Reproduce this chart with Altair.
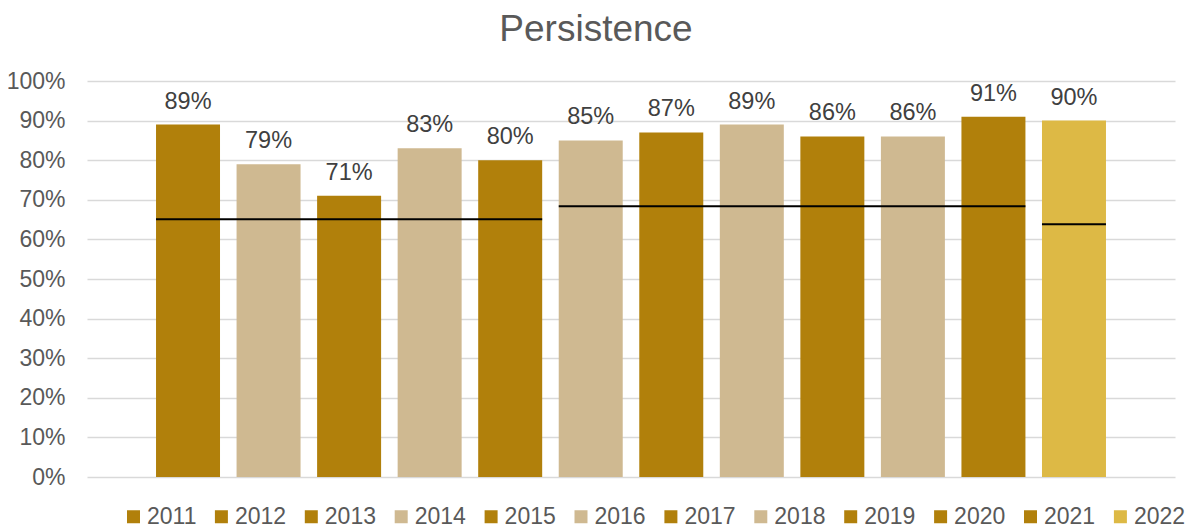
import altair as alt
import pandas as pd

years = ["2011", "2012", "2013", "2014", "2015", "2016",
         "2017", "2018", "2019", "2020", "2021", "2022"]
persistence = [0.89, 0.79, 0.71, 0.83, 0.80, 0.85,
               0.87, 0.89, 0.86, 0.86, 0.91, 0.90]

DARK = "#B1800B"
TAN = "#CFB991"
LIGHT = "#DDB945"
bar_colors = [DARK, TAN, DARK, TAN, DARK, TAN,
              DARK, TAN, DARK, TAN, DARK, LIGHT]
legend_colors = [DARK, DARK, DARK, TAN, DARK, TAN,
                 DARK, TAN, DARK, DARK, DARK, LIGHT]

seg_start = ["2011", "2016", "2022"]
seg_end = ["2015", "2021", "2022"]
seg_value = [0.651, 0.684, 0.638]

tick_values = [0.0, 0.1, 0.2, 0.3, 0.4, 0.5, 0.6, 0.7, 0.8, 0.9, 1.0]

FONT = "Liberation Sans"

bars_df = pd.DataFrame({"year": years, "value": persistence, "fill": bar_colors})
seg_df = pd.DataFrame({"start": seg_start, "end": seg_end, "value": seg_value})
legend_df = pd.DataFrame({"year": years, "value": [-0.5] * len(years)})

xscale = alt.Scale(domain=years, paddingInner=0.2055, paddingOuter=0.857)
yscale = alt.Scale(domain=[0, 1], nice=False)
yaxis = alt.Axis(format=".0%", values=tick_values, labelOverlap=False,
                 labelFontSize=23, labelFont=FONT, labelColor="#595959",
                 labelPadding=22, ticks=False, domain=False,
                 gridColor="#D9D9D9", gridWidth=1.3, title=None)

bars = alt.Chart(bars_df).mark_bar().encode(
    x=alt.X("year:N", scale=xscale, axis=None),
    y=alt.Y("value:Q", scale=yscale, axis=yaxis),
    color=alt.Color("fill:N", scale=None),
)

labels = alt.Chart(bars_df).mark_text(
    dy=-16, baseline="alphabetic", fontSize=23.5, font=FONT, color="#404040"
).encode(
    x=alt.X("year:N", scale=xscale, axis=None),
    y=alt.Y("value:Q", scale=yscale, axis=yaxis),
    text=alt.Text("value:Q", format=".0%"),
)

rules = alt.Chart(seg_df).mark_rule(color="black", strokeWidth=2).encode(
    x=alt.X("start:N", scale=xscale, axis=None, bandPosition=0),
    x2=alt.X2("end", bandPosition=1),
    y=alt.Y("value:Q", scale=yscale, axis=yaxis),
)

legend_layer = alt.Chart(legend_df).mark_square(clip=True, size=169).encode(
    x=alt.X("year:N", scale=xscale, axis=None),
    y=alt.Y("value:Q", scale=yscale, axis=yaxis),
    color=alt.Color("year:N",
                    scale=alt.Scale(domain=years, range=legend_colors),
                    legend=alt.Legend(orient="none", legendX=35, legendY=424,
                                      direction="horizontal", columns=12,
                                      symbolType="square", symbolSize=169,
                                      symbolStrokeWidth=0, symbolOpacity=1,
                                      labelFontSize=23, labelFont=FONT,
                                      labelColor="#595959", labelOffset=2,
                                      columnPadding=12.9, padding=0, title=None)),
)

chart = alt.layer(legend_layer, bars, rules, labels).resolve_scale(
    color="independent"
).properties(
    width=1088,
    height=396,
    padding={"left": 79, "top": 73, "right": 16, "bottom": 52},
    autosize=alt.AutoSizeParams(type="none"),
    title=alt.TitleParams("Persistence", fontSize=37, font=FONT, color="#595959",
                          fontWeight="normal", anchor="middle", frame="group",
                          dx=-35, dy=18, baseline="alphabetic", offset=10),
).configure_view(stroke=None)

chart.save("out.html", embed_options={"renderer": "svg", "actions": False})
